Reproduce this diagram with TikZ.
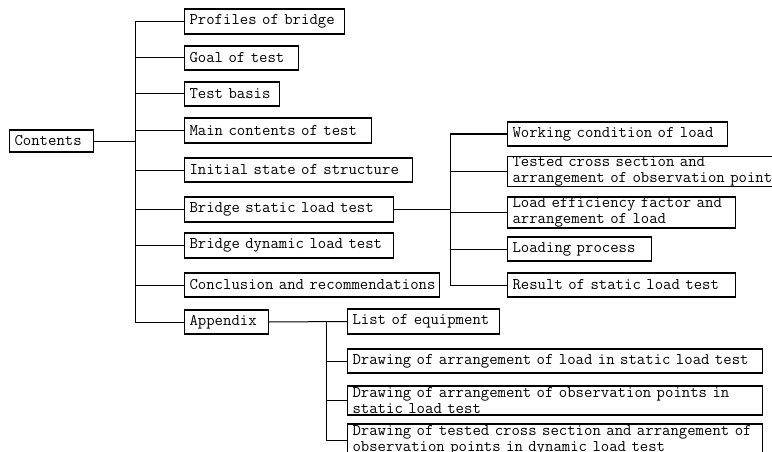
\documentclass[tikz,border=0pt]{standalone}
\tikzset{
  bx/.style={draw, line width=1.1pt, anchor=west, inner xsep=5pt, inner ysep=0pt, align=left,
    font=\ttfamily\fontsize{16.3}{16}\selectfont},
  ln/.style={line width=1pt}
}
\newcommand{\ml}[1]{\mbox{#1}}
\begin{document}
\begin{tikzpicture}[x=1pt,y=-1pt]
\useasboundingbox (0,0) rectangle (772,452);
\node[bx, minimum width=84pt, minimum height=22pt, text width=74pt] (contents) at (9,141) {\ml{Contents}};
\node[bx, minimum width=160pt, minimum height=25pt, text width=150pt] (profiles) at (184,21.5) {\ml{Profiles of bridge}};
\node[bx, minimum width=114pt, minimum height=24pt, text width=104pt] (goal) at (184,58) {\ml{Goal of test}};
\node[bx, minimum width=95pt, minimum height=24pt, text width=85pt] (basis) at (184,94) {\ml{Test basis}};
\node[bx, minimum width=187pt, minimum height=25pt, text width=177pt] (main) at (184,130.5) {\ml{Main contents of test}};
\node[bx, minimum width=228pt, minimum height=24pt, text width=218pt] (initial) at (184,170) {\ml{Initial state of structure}};
\node[bx, minimum width=209pt, minimum height=25pt, text width=199pt] (static) at (184,209.5) {\ml{Bridge static load test}};
\node[bx, minimum width=209pt, minimum height=25pt, text width=199pt] (dynamic) at (184,245.5) {\ml{Bridge dynamic load test}};
\node[bx, minimum width=255pt, minimum height=24pt, text width=245pt] (concl) at (184,285) {\ml{Conclusion and recommendations}};
\node[bx, minimum width=84pt, minimum height=24pt, text width=74pt] (appendix) at (184,322) {\ml{Appendix}};
%
\node[bx, minimum width=220pt, minimum height=24pt, text width=210pt] (working) at (507,134) {\ml{Working condition of load}};
\node[bx, minimum width=285pt, minimum height=27pt, text width=275pt] (tested) at (507,171.5) {\ml{Tested cross section and}\\\ml{arrangement of observation points}};
\node[bx, minimum width=228pt, minimum height=31pt, text width=218pt] (loadeff) at (507,212.5) {\ml{Load efficiency factor and}\\\ml{arrangement of load}};
\node[bx, minimum width=144pt, minimum height=24pt, text width=134pt] (loading) at (507,249) {\ml{Loading process}};
\node[bx, minimum width=228pt, minimum height=24pt, text width=218pt] (result) at (507,285) {\ml{Result of static load test}};
%
\node[bx, minimum width=152pt, minimum height=25pt, text width=142pt] (list) at (347,321.5) {\ml{List of equipment}};
\node[bx, minimum width=415pt, minimum height=24pt, text width=405pt] (drawload) at (347,361) {\ml{Drawing of arrangement of load in static load test}};
\node[bx, minimum width=415pt, minimum height=29pt, text width=405pt] (drawobs) at (347,400.5) {\ml{Drawing of arrangement of observation points in}\\\ml{static load test}};
\node[bx, minimum width=415pt, minimum height=32pt, text width=405pt] (drawtested) at (347,440) {\ml{Drawing of tested cross section and arrangement of}\\\ml{observation points in dynamic load test}};
%
\coordinate (sp) at (135,0);
\coordinate (ss) at (450,0);
\coordinate (sa) at (326,0);
\draw[ln] (contents.east) -- (contents.east -| sp);
\draw[ln] (profiles.west) -- (profiles.west -| sp) |- (appendix.west);
\foreach \n in {goal,basis,main,initial,static,dynamic,concl}
  \draw[ln] (\n.west) -- (\n.west -| sp);
\draw[ln] (static.east) -- (static.east -| ss);
\draw[ln] (working.west) -- (working.west -| ss) |- (result.west);
\foreach \n in {tested,loadeff,loading}
  \draw[ln] (\n.west) -- (\n.west -| ss);
\draw[ln] (appendix.east) -- (list.west);
\draw[ln] (list.west -| sa) |- (drawtested.west);
\foreach \n in {drawload,drawobs}
  \draw[ln] (\n.west) -- (\n.west -| sa);
\end{tikzpicture}
\end{document}
